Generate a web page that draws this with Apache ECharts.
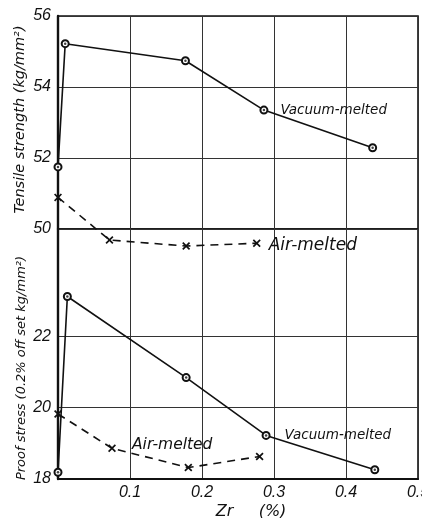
<!DOCTYPE html>
<html>
<head>
<meta charset="utf-8">
<script src="https://cdn.jsdelivr.net/npm/echarts@6/dist/echarts.min.js"></script>
<style>
  html, body { margin: 0; padding: 0; background: #fff; }
  #chart { width: 422px; height: 518px; }
</style>
</head>
<body>
<div id="chart"></div>
<script>
// tensile strength (kg/mm2)
const tsVacuumZr = [0, 0.01, 0.177, 0.286, 0.437];
const tsVacuum = [51.75, 55.22, 54.74, 53.35, 52.29];
const tsAirZr = [0, 0.0715, 0.178, 0.276];
const tsAir = [50.89, 49.69, 49.52, 49.6];
// proof stress (kg/mm2)
const psVacuumZr = [0, 0.013, 0.178, 0.289, 0.44];
const psVacuum = [18.19, 23.11, 20.84, 19.22, 18.26];
const psAirZr = [0, 0.075, 0.181, 0.28];
const psAir = [19.82, 18.86, 18.32, 18.63];

const xLabels = ['0.1', '0.2', '0.3', '0.4', '0.5'];
const tsTicks = [50, 52, 54, 56];
const psTicks = [18, 20, 22];

const ink = '#111';
const numFont = { fontFamily: 'Liberation Sans', fontStyle: 'italic', fontSize: 16, color: ink };
const wordFont = { fontFamily: 'DejaVu Sans', fontStyle: 'italic', color: ink };
const xMark = 'path://M1.5,0L5,3.5L8.5,0L10,1.5L6.5,5L10,8.5L8.5,10L5,6.5L1.5,10L0,8.5L3.5,5L0,1.5Z';

function pairs(xs, ys, labelAt, labelOpt) {
  return xs.map((x, i) => {
    const item = { value: [x, ys[i]] };
    if (i === labelAt) item.label = Object.assign({ show: true, position: 'right' }, wordFont, labelOpt);
    return item;
  });
}

function vacuumSeries(xi, xs, ys, labelAt, labelOpt) {
  return [{
    type: 'line', xAxisIndex: xi, yAxisIndex: xi,
    data: pairs(xs, ys, labelAt, labelOpt),
    symbol: 'emptyCircle', symbolSize: 7, showAllSymbol: true,
    lineStyle: { color: ink, width: 1.6 },
    itemStyle: { color: ink, borderWidth: 1.2 },
    clip: false, z: 5
  }, {
    type: 'scatter', xAxisIndex: xi, yAxisIndex: xi,
    data: xs.map((x, i) => [x, ys[i]]),
    symbol: 'circle', symbolSize: 2.5,
    itemStyle: { color: ink }, z: 6
  }];
}

function airSeries(xi, xs, ys, labelAt, labelOpt) {
  return {
    type: 'line', xAxisIndex: xi, yAxisIndex: xi,
    data: pairs(xs, ys, labelAt, labelOpt),
    symbol: xMark, symbolSize: 8, showAllSymbol: true,
    lineStyle: { color: ink, width: 1.6, type: [8, 6] },
    itemStyle: { color: ink },
    clip: false, z: 5
  };
}

const chart = echarts.init(document.getElementById('chart'));

const gridLine = { show: true, lineStyle: { color: '#333', width: 1 } };

chart.setOption({
  backgroundColor: '#fff',
  animation: false,
  grid: [
    { left: 58, right: 4, top: 16, height: 213, show: true, borderColor: ink, borderWidth: 1.6, outerBoundsMode: 'none', containLabel: false },
    { left: 58, right: 4, top: 229, height: 250, show: true, borderColor: ink, borderWidth: 1.6, outerBoundsMode: 'none', containLabel: false }
  ],
  xAxis: [
    {
      gridIndex: 0, type: 'value', min: 0, max: 0.5, interval: 0.1,
      axisLine: { show: false }, axisTick: { show: false }, axisLabel: { show: false },
      splitLine: gridLine
    },
    {
      gridIndex: 1, type: 'value', min: 0, max: 0.5, interval: 0.1,
      axisLine: { show: true, lineStyle: { color: ink, width: 2.2 } },
      axisTick: { show: false },
      axisLabel: Object.assign({
        margin: 6,
        formatter: v => {
          const s = v.toFixed(1);
          return xLabels.includes(s) ? s : '';
        }
      }, numFont),
      splitLine: gridLine,
      name: 'Zr     (%)', nameLocation: 'middle', nameGap: 25,
      nameTextStyle: Object.assign({}, wordFont, { fontSize: 16, padding: [0, 0, 0, 26] })
    }
  ],
  yAxis: [
    {
      gridIndex: 0, type: 'value', min: 50, max: 56, interval: 2,
      axisLine: { show: true, lineStyle: { color: ink, width: 2.4 } },
      axisTick: { show: false },
      axisLabel: Object.assign({
        margin: 7,
        formatter: v => tsTicks.includes(v) ? String(v) : ''
      }, numFont),
      splitLine: gridLine,
      name: 'Tensile strength (kg/mm²)', nameLocation: 'middle', nameRotate: 90, nameGap: 30,
      nameMoveOverlap: false,
      nameTextStyle: Object.assign({}, wordFont, { fontSize: 14.5, padding: [0, 0, 0, 6] })
    },
    {
      gridIndex: 1, type: 'value', min: 18, max: 25, interval: 2,
      axisLine: { show: true, lineStyle: { color: ink, width: 2.4 } },
      axisTick: { show: false },
      axisLabel: Object.assign({
        margin: 7,
        formatter: v => psTicks.includes(v) ? String(v) : ''
      }, numFont),
      splitLine: {
        show: true, showMaxLine: false,
        lineStyle: { color: ['#333', '#333', '#333', 'rgba(0,0,0,0)'], width: 1 }
      },
      name: 'Proof stress (0.2% off set kg/mm²)', nameLocation: 'middle', nameRotate: 90, nameGap: 30,
      nameMoveOverlap: false,
      nameTextStyle: Object.assign({}, wordFont, { fontSize: 13, padding: [0, 28, 0, 0] })
    }
  ],
  series: [
    ...vacuumSeries(0, tsVacuumZr, tsVacuum, 3, { formatter: 'Vacuum-melted', fontSize: 13.5, distance: 12 }),
    airSeries(0, tsAirZr, tsAir, 3, { formatter: 'Air-melted', fontSize: 17, distance: 8, offset: [0, 2] }),
    ...vacuumSeries(1, psVacuumZr, psVacuum, 3, { formatter: 'Vacuum-melted', fontSize: 13.5, distance: 14 }),
    airSeries(1, psAirZr, psAir, 1, { formatter: 'Air-melted', fontSize: 15.5, distance: 16, offset: [0, -3] })
  ]
});
</script>
</body>
</html>
